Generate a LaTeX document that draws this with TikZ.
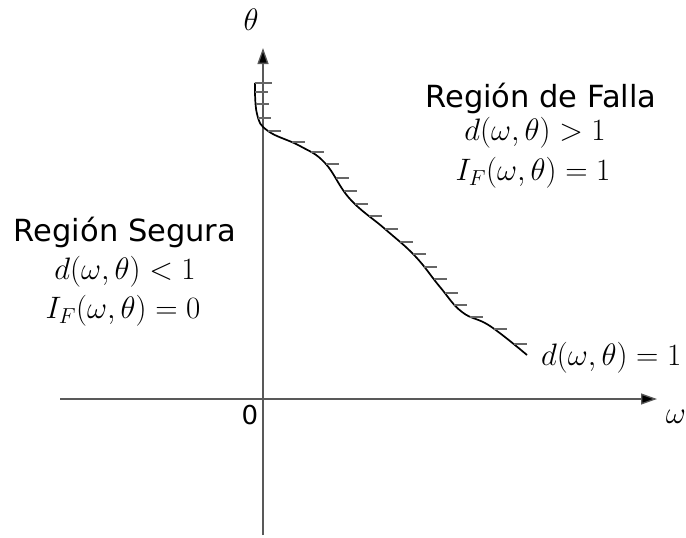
\RequirePackage{fix-cm}
\documentclass[tikz,border=0pt]{standalone}
\usepackage{fontspec}
\setmainfont{DejaVu Sans}
\usetikzlibrary{arrows.meta,intersections}
\begin{document}
\begin{tikzpicture}[x=1pt,y=-1pt,
  axis/.style={line width=1.3pt,black!65,-{Triangle[length=16pt,width=11pt,fill=black]}},
  hatch/.style={line width=1.3pt,black!60},
  curvestyle/.style={line width=1.7pt,black},
  lbl/.style={font=\fontsize{30.5}{36}\selectfont,inner sep=0pt},
  zlbl/.style={font=\fontsize{26}{30}\selectfont,inner sep=0pt},
  mth/.style={font=\fontsize{31}{37}\selectfont,inner sep=0pt}]
\useasboundingbox (0,0) rectangle (686,538);
% axes
\coordinate (xl) at (60,399);
\coordinate (xr) at (657,399);
\coordinate (yb) at (263,535);
\coordinate (yt) at (263,48);
\draw[axis] (xl) -- (xr);
\draw[axis] (yb) -- (yt);
% curve
\coordinate (cs) at (255,83);
\coordinate (ce) at (527,355);
\draw[curvestyle,name path=curve] plot[smooth,tension=0.7] coordinates {
 (255,83) (257,114) (268,131) (300,146) (325,163) (350,199) (385,229)
 (415,256) (440,287) (462,312) (490,326) (527,355)};
\draw[hatch] (cs) -- ++(17,0);
\foreach \yy [count=\i] in {92,104,118,131,142,152,164,178,191,204,216,229,242,254,267,279,293,305,317,329,344}{
  \path[name path=h\i] (200,\yy) -- (650,\yy);
  \draw[hatch,name intersections={of=curve and h\i}] (intersection-1) -- ++(13,0);
}
% labels
\node[mth] (theta) at (251,20) {$\theta$};
\node[mth] (omega) at (676,417) {$\omega$};
\node[zlbl] (zero) at (250,415) {0};
\node[lbl,anchor=base] (fallaT) at (541,107) {Región de Falla};
\node[mth] (fallaA) at (535,133) {$d(\omega,\theta)>1$};
\node[mth] (fallaB) at (533,173) {$I_F(\omega,\theta)=1$};
\node[lbl,anchor=base] (segT) at (125,241) {Región Segura};
\node[mth] (segA) at (125,272) {$d(\omega,\theta)<1$};
\node[mth] (segB) at (123,311) {$I_F(\omega,\theta)=0$};
\node[mth,anchor=west] (dlab) at (541,358) {$d(\omega,\theta)=1$};
\end{tikzpicture}
\end{document}
